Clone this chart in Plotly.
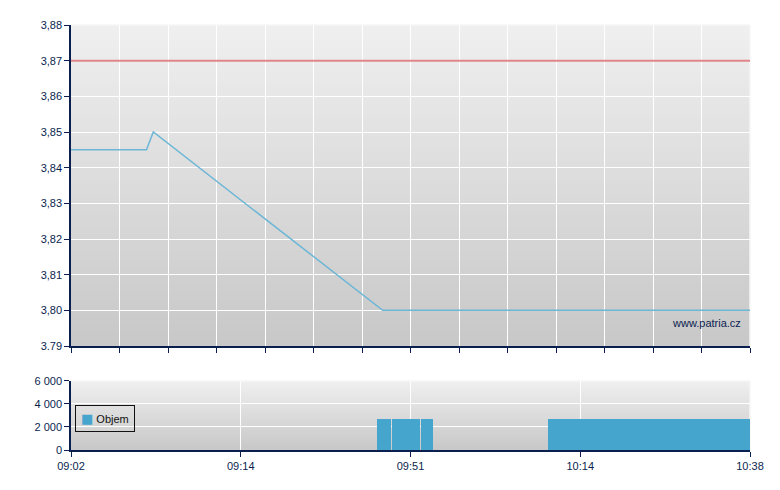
import plotly.graph_objects as go

# ---- data ----
# x positions are in chart index units (0 .. 96), labelled by time strings
price_t = [0, 10.67, 11.64, 44.07, 96]
price = [3.845, 3.845, 3.85, 3.80, 3.80]
ref_price = 3.87

vol_start = [43.26, 45.38, 49.53, 67.44]
vol_end = [45.24, 49.34, 51.14, 96.0]
vol = [2700, 2700, 2700, 2700]

x_tickpos = [0, 24, 48, 72, 96]
x_ticklabels = ["09:02", "09:14", "09:51", "10:14", "10:38"]

y_ticks = [3.79, 3.80, 3.81, 3.82, 3.83, 3.84, 3.85, 3.86, 3.87, 3.88]
y_ticklabels = ["3.79", "3,80", "3,81", "3,82", "3,83", "3,84", "3,85", "3,86", "3,87", "3,88"]
v_ticks = [0, 2000, 4000, 6000]
v_ticklabels = ["0", "2 000", "4 000", "6 000"]

NAVY = "#0B1F4F"
BAR = "#46A5CD"
FONT = "Liberation Sans"

fig = go.Figure()

# reference price line
fig.add_trace(go.Scatter(x=[price_t[0], price_t[-1]], y=[ref_price, ref_price], mode="lines",
                         line=dict(color="#E0868A", width=2), showlegend=False,
                         hoverinfo="skip", xaxis="x", yaxis="y"))
# price line
fig.add_trace(go.Scatter(x=price_t, y=price, mode="lines",
                         line=dict(color="#6CB6D6", width=1.5), showlegend=False,
                         xaxis="x", yaxis="y"))
# volume bars
centers = [(a + b) / 2 for a, b in zip(vol_start, vol_end)]
widths = [b - a for a, b in zip(vol_start, vol_end)]
fig.add_trace(go.Bar(x=centers, y=vol, width=widths, name="Objem",
                     marker=dict(color=BAR, line=dict(width=0)),
                     showlegend=False, xaxis="x2", yaxis="y2"))

# gradient backgrounds (stacked strips, each reaching the top, so no seams)
shapes = []
N = 40
for yref_dom, xref_dom in (("y domain", "x domain"), ("y2 domain", "x2 domain")):
    for i in range(N):
        f0 = i / N
        c = int(round(200 + (239 - 200) * (f0 + 0.5 / N)))
        shapes.append(dict(type="rect", xref=xref_dom, yref=yref_dom, x0=0, x1=1,
                           y0=f0, y1=1, fillcolor=f"rgb({c},{c},{c})",
                           line=dict(width=0), layer="below"))
    # light top/right edges
    shapes.append(dict(type="line", xref=xref_dom, yref=yref_dom, x0=0, x1=1, y0=1, y1=1,
                       line=dict(color="#F6F6F6", width=1.5), layer="below"))
    shapes.append(dict(type="line", xref=xref_dom, yref=yref_dom, x0=1, x1=1, y0=0, y1=1,
                       line=dict(color="#F6F6F6", width=1.5), layer="below"))

axis_common = dict(showline=True, linecolor=NAVY, linewidth=1.5, ticks="outside",
                   tickcolor=NAVY, tickwidth=1, ticklen=5, gridcolor="white", gridwidth=1,
                   zeroline=False, tickfont=dict(family=FONT, size=11, color=NAVY))

fig.update_layout(
    width=780, height=490,
    margin=dict(l=71, r=30, t=25, b=40),
    paper_bgcolor="white", plot_bgcolor="rgba(0,0,0,0)",
    template="none",
    font=dict(family=FONT, size=11, color=NAVY),
    shapes=shapes,
    bargap=0,
    showlegend=False,
    xaxis=dict(domain=[0, 1], range=[0, 96], tick0=0, dtick=96 / 14, showticklabels=False,
               showgrid=True, anchor="y", **axis_common),
    yaxis=dict(domain=[0.2447, 1], range=[3.79, 3.88], tickvals=y_ticks, ticktext=y_ticklabels,
               showgrid=True, anchor="x", **axis_common),
    xaxis2=dict(domain=[0, 1], range=[0, 96], tickvals=x_tickpos, ticktext=x_ticklabels,
                showgrid=True, anchor="y2", matches="x", **axis_common),
    yaxis2=dict(domain=[0, 0.1624], range=[0, 6000], tickvals=v_ticks, ticktext=v_ticklabels,
                showgrid=True, anchor="x2", **axis_common),
    annotations=[
        dict(text="www.patria.cz", xref="paper", yref="paper", x=0.9897, y=0.2988,
             xanchor="right", yanchor="middle", showarrow=False,
             font=dict(family=FONT, size=11, color=NAVY)),
        # legend box
        dict(text=f"<span style='font-family:DejaVu Sans;font-size:13px;color:{BAR}'>■</span> Objem",
             xref="paper", yref="paper", x=0.0059, y=0.1059, xanchor="left", yanchor="top",
             showarrow=False, bordercolor="#111111", borderwidth=1, borderpad=5,
             bgcolor="rgba(0,0,0,0)", font=dict(family=FONT, size=11, color="#111111")),
    ],
)

fig.write_html("out.html", config={"displayModeBar": False},
               post_script="document.body.style.margin='0';")
